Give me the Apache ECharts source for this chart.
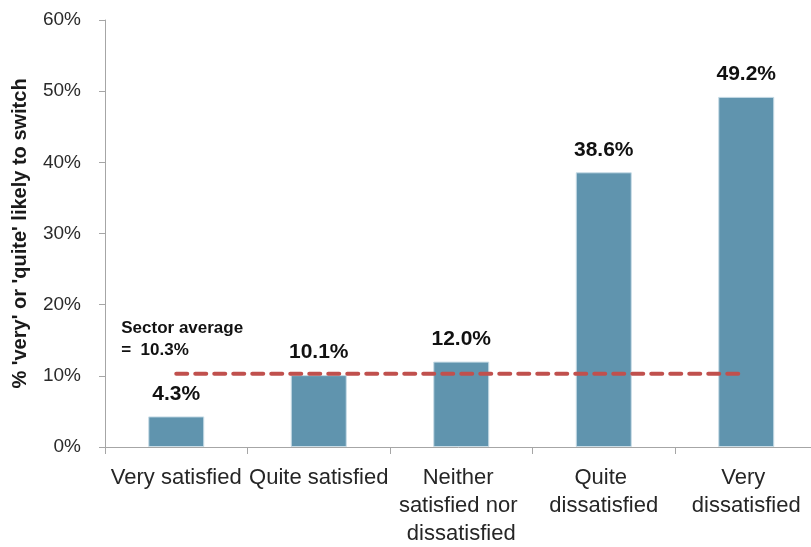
<!DOCTYPE html>
<html>
<head>
<meta charset="utf-8">
<script src="https://cdn.jsdelivr.net/npm/echarts@6/dist/echarts.min.js"></script>
<style>
  html, body { margin: 0; padding: 0; background: #fff; }
  #main { width: 811px; height: 547px; }
</style>
</head>
<body>
<div id="main"></div>
<script>
// chart data
var categories = ['Very satisfied', 'Quite satisfied', 'Neither satisfied nor dissatisfied', 'Quite dissatisfied', 'Very dissatisfied'];
var switchShare = [4.3, 10.1, 12.0, 38.6, 49.2];
var sectorAverage = 10.3;
var avgLine = categories.map(function () { return sectorAverage; });
var yTicks = [0, 10, 20, 30, 40, 50, 60];

var myChart = echarts.init(document.getElementById('main'));
var fontFamily = '"Liberation Sans", Arial, sans-serif';

var option = {
    animation: false,
    grid: {
        top: 20,
        left: 105,
        width: 712.5,
        bottom: 100,
        outerBoundsMode: 'none'
    },
    xAxis: {
        type: 'category',
        data: categories,
        axisLine: { lineStyle: { color: '#a6a6a6', width: 1 } },
        axisTick: { show: true, length: 7, lineStyle: { color: '#a6a6a6' } },
        axisLabel: {
            interval: 0,
            margin: 17,
            color: '#262626',
            fontFamily: fontFamily,
            fontSize: 22,
            lineHeight: 28,
            width: 143,
            overflow: 'break'
        }
    },
    yAxis: {
        type: 'value',
        min: yTicks[0],
        max: yTicks[yTicks.length - 1],
        interval: 10,
        name: "% 'very' or 'quite' likely to switch",
        nameLocation: 'middle',
        nameRotate: 90,
        nameGap: 75,
        nameTextStyle: {
            color: '#1a1a1a',
            fontFamily: fontFamily,
            fontSize: 20,
            fontWeight: 'bold'
        },
        axisLine: { show: true, lineStyle: { color: '#a6a6a6', width: 1 } },
        axisTick: { show: true, length: 6, lineStyle: { color: '#a6a6a6' } },
        splitLine: { show: false },
        axisLabel: {
            margin: 24,
            color: '#2b2b2b',
            fontFamily: fontFamily,
            fontSize: 19,
            formatter: function (v) { return v + '%'; }
        }
    },
    series: [
        {
            type: 'bar',
            data: switchShare,
            barWidth: 56,
            itemStyle: {
                color: '#6094ae',
                borderColor: '#c9dde7',
                borderWidth: 1
            },
            label: {
                show: true,
                position: 'top',
                distance: 12,
                color: '#111111',
                fontFamily: fontFamily,
                fontSize: 21,
                fontWeight: 'bold',
                formatter: function (p) { return p.value.toFixed(1) + '%'; }
            },
            z: 2
        },
        {
            type: 'line',
            data: avgLine,
            symbol: 'circle',
            symbolSize: 0.1,
            showSymbol: true,
            itemStyle: { color: '#c0504d' },
            lineStyle: {
                color: '#c0504d',
                width: 4,
                type: [11, 8],
                cap: 'round'
            },
            label: {
                show: true,
                position: 'top',
                distance: 12,
                align: 'left',
                offset: [-55, 0],
                color: '#111111',
                fontFamily: fontFamily,
                fontSize: 17,
                fontWeight: 'bold',
                lineHeight: 22,
                formatter: function (p) {
                    return p.dataIndex === 0 ? 'Sector average\n=  ' + sectorAverage.toFixed(1) + '%' : '';
                }
            },
            z: 3
        }
    ]
};

myChart.setOption(option);
</script>
</body>
</html>
